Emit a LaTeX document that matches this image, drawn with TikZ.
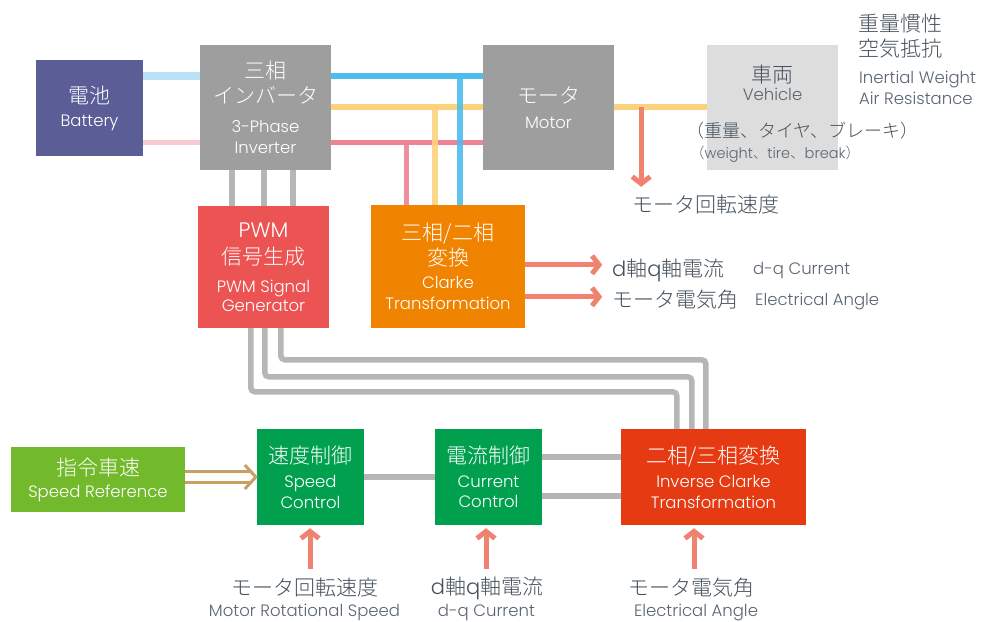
\documentclass[tikz,border=0pt]{standalone}
\usepackage{fontspec}
\setmainfont{Poppins}[UprightFont=* Light]
\newfontfamily\jpf{Noto Sans CJK JP}[UprightFont=* Light]
\usetikzlibrary{arrows.meta,calc}
\definecolor{cBat}{HTML}{5B5E96}
\definecolor{cGray}{HTML}{9D9E9D}
\definecolor{cVeh}{HTML}{DCDDDC}
\definecolor{cPWM}{HTML}{EB5453}
\definecolor{cClk}{HTML}{F08300}
\definecolor{cRef}{HTML}{72BA2C}
\definecolor{cCtl}{HTML}{00A04F}
\definecolor{cInv}{HTML}{E63A12}
\definecolor{cWire}{HTML}{B5B6B5}
\definecolor{cSal}{HTML}{F08270}
\definecolor{cTan}{HTML}{C9A063}
\definecolor{cLBlue}{HTML}{B9E2F7}
\definecolor{cLPink}{HTML}{F8CAD3}
\definecolor{cBlue}{HTML}{4DBDEE}
\definecolor{cYel}{HTML}{FCD37D}
\definecolor{cRose}{HTML}{EE8394}
\definecolor{cTxt}{HTML}{44505B}
\definecolor{cTxtL}{HTML}{5A6570}
\newcommand{\jt}{\jpf\fontsize{21}{24}\selectfont}
\newcommand{\et}{\rmfamily\fontsize{16.5}{24}\selectfont}
\newcommand{\etb}{\rmfamily\fontsize{21}{24}\selectfont}
\tikzset{
  blk/.style={inner sep=0pt, align=center, text=white, font=\fontsize{17}{24}\selectfont},
  wire/.style={line width=6pt, cWire},
  gwire/.style={line width=5.5pt, cWire, rounded corners=4pt},
  sal/.style={cSal, line width=5pt, -{Straight Barb[length=7pt,width=18pt]}},
  tanl/.style={cTan, line width=3pt},
  lblJ/.style={inner sep=0pt, text=cTxt, font=\jt},
  lblE/.style={inner sep=0pt, text=cTxtL, font=\et},
}
\begin{document}
\begin{tikzpicture}[x=1pt,y=-1pt]
\useasboundingbox (0,0) rectangle (982,621);
\fill[white] (0,0) rectangle (982,621);

% boxes
\node[blk, fill=cBat, minimum width=107pt, minimum height=96pt] (bat) at (89.5,108)
  {{\jt 電池}\\[-1pt]{\et Battery}};
\node[blk, fill=cGray, minimum width=131pt, minimum height=125pt] (inv3) at (265.5,107.5)
  {{\jt 三相}\\[1pt]{\jt インバータ}\\[5pt]{\et 3-Phase}\\[-3pt]{\et Inverter}};
\node[blk, fill=cGray, minimum width=131pt, minimum height=125pt] (mot) at (548.5,107.5)
  {{\jt モータ}\\[1pt]{\et Motor}};
\node[blk, fill=cVeh, minimum width=131pt, minimum height=125pt] (veh) at (772.5,107.5) {};
\node[blk, fill=cPWM, minimum width=131pt, minimum height=122pt] (pwm) at (263.5,267)
  {{\etb PWM}\\[3pt]{\jt 信号生成}\\[4pt]{\et PWM Signal}\\[-5pt]{\et Generator}};
\node[blk, fill=cClk, minimum width=154pt, minimum height=123pt] (clk) at (448,266.5)
  {{\jt 三相/二相}\\[1pt]{\jt 変換}\\[-1pt]{\et Clarke}\\[-3pt]{\et Transformation}};
\node[blk, fill=cRef, minimum width=174pt, minimum height=65pt] (ref) at (98,479.5)
  {{\jt 指令車速}\\[-2pt]{\et Speed Reference}};
\node[blk, fill=cCtl, minimum width=107pt, minimum height=96pt] (spd) at (310.5,477)
  {{\jt 速度制御}\\[0pt]{\et Speed}\\[-3pt]{\et Control}};
\node[blk, fill=cCtl, minimum width=107pt, minimum height=96pt] (cur) at (488.5,477)
  {{\jt 電流制御}\\[0pt]{\et Current}\\[-4pt]{\et Control}};
\node[blk, fill=cInv, minimum width=185pt, minimum height=96pt] (icl) at (713.5,477)
  {{\jt 二相/三相変換}\\[0pt]{\et Inverse Clarke}\\[-3pt]{\et Transformation}};

% vehicle texts
\node[lblJ, anchor=base] (vehJ) at (772.5,82) {車両};
\node[lblE, anchor=base] (vehE) at (772.5,100) {Vehicle};
\node[lblJ, anchor=base west, font=\jpf\fontsize{18}{20}\selectfont] (vp1) at (686,137) {（重量、タイヤ、ブレーキ）};
\node[lblE, anchor=base west, font=\rmfamily\fontsize{14.5}{18}\selectfont] (vp2) at (690,158) {{\jpf （}weight{\jpf 、}tire{\jpf 、}break{\jpf ）}};

% top right texts
\node[lblJ, anchor=base west] (tr1) at (858,31.5) {重量慣性};
\node[lblJ, anchor=base west] (tr2) at (858,56.5) {空気抵抗};
\node[lblE, anchor=base west] (tr3) at (859,83) {Inertial Weight};
\node[lblE, anchor=base west] (tr4) at (859,104) {Air Resistance};

% power lines battery - inverter
\draw[cLBlue, line width=8pt] ($(bat.north east)+(0,16)$) -- ($(inv3.north west)+(0,31)$);
\draw[cLPink, line width=5pt] ($(bat.north east)+(0,83)$) -- ($(inv3.north west)+(0,98)$);
% inverter - motor three phases
\draw[cBlue, line width=6pt] ($(inv3.north east)+(0,31)$) -- ($(mot.north west)+(0,31)$);
\draw[cYel, line width=6pt] ($(inv3.north east)+(0,62)$) -- ($(mot.north west)+(0,62)$);
\draw[cRose, line width=5pt] ($(inv3.north east)+(0,98)$) -- ($(mot.north west)+(0,98)$);
% taps to Clarke
\draw[cRose, line width=5pt, opacity=.9] ($(clk.north west)+(36,0)$) -- ($(clk.north west)+(36,-62)$);
\draw[cYel, line width=6pt, opacity=.9] ($(clk.north west)+(64,0)$) -- ($(clk.north west)+(64,-98)$);
\draw[cBlue, line width=6pt, opacity=.9] ($(clk.north west)+(89,0)$) -- ($(clk.north west)+(89,-126)$);
% motor - vehicle
\draw[cYel, line width=6pt] ($(mot.north east)+(0,62)$) -- ($(veh.north west)+(0,62)$);
\coordinate (tapM) at ($(mot.north east)+(27,62)$);
\draw[sal] (tapM) -- ($(tapM)+(0,80)$);
\node[lblJ, anchor=base west] (rotT) at (632,212) {モータ回転速度};

% inverter - PWM
\draw[wire] ($(inv3.south west)+(32,0)$) -- ($(pwm.north west)+(34,0)$);
\draw[wire] ($(inv3.south west)+(64,0)$) -- ($(pwm.north west)+(66,0)$);
\draw[wire] ($(inv3.south west)+(93,0)$) -- ($(pwm.north west)+(95,0)$);

% Clarke outputs
\node[lblJ, anchor=base west] (dqR) at (612,276) {{\rmfamily d}軸{\rmfamily q}軸電流};
\node[lblE, anchor=base west] (dqRe) at (753,274) {d-q Current};
\node[lblJ, anchor=base west] (angR) at (612,307) {モータ電気角};
\node[lblE, anchor=base west] (angRe) at (755,305) {Electrical Angle};
\draw[sal] ($(clk.north east)+(0,60)$) -- ($(clk.north east)+(77,60)$);
\draw[sal] ($(clk.north east)+(0,92)$) -- ($(clk.north east)+(77,92)$);

% PWM - inverse Clarke routing
\draw[gwire] ($(pwm.south west)+(53,0)$) |- ($(icl.north west)+(56,-37)$) -- ($(icl.north west)+(56,0)$);
\draw[gwire] ($(pwm.south west)+(67,0)$) |- ($(icl.north west)+(71,-52)$) -- ($(icl.north west)+(71,0)$);
\draw[gwire] ($(pwm.south west)+(83,0)$) |- ($(icl.north west)+(85,-69)$) -- ($(icl.north west)+(85,0)$);

% control chain
\coordinate (dA) at ($(spd.west)+(-5,-5.5)$);
\coordinate (dB) at ($(spd.west)+(-5,5.5)$);
\draw[tanl] (ref.east |- dA) -- (dA);
\draw[tanl] (ref.east |- dB) -- (dB);
\draw[tanl, line join=miter] ($(spd.west)+(-12,-12)$) -- ($(spd.west)+(-1,0)$) -- ($(spd.west)+(-12,12)$);
\draw[wire] (spd.east) -- (cur.west);
\draw[wire] ($(cur.east)+(0,-20)$) -- ($(icl.west)+(0,-20)$);
\draw[wire] ($(cur.east)+(0,19)$) -- ($(icl.west)+(0,19)$);

% feedback inputs
\node[lblJ, anchor=base] (rotB) at (305,595) {モータ回転速度};
\node[lblE, anchor=base] (rotBe) at (304.5,616.5) {Motor Rotational Speed};
\node[lblJ, anchor=base] (dqB) at (487,594) {{\rmfamily d}軸{\rmfamily q}軸電流};
\node[lblE, anchor=base] (dqBe) at (486.5,616.5) {d-q Current};
\node[lblJ, anchor=base] (angB) at (691,595) {モータ電気角};
\node[lblE, anchor=base] (angBe) at (696,616.5) {Electrical Angle};
\draw[sal] ($(spd.south)+(-0.5,44)$) -- ($(spd.south)+(-0.5,3)$);
\draw[sal] ($(cur.south)+(-2.5,44)$) -- ($(cur.south)+(-2.5,3)$);
\draw[sal] ($(icl.south)+(-19.5,44)$) -- ($(icl.south)+(-19.5,3)$);
\end{tikzpicture}
\end{document}
